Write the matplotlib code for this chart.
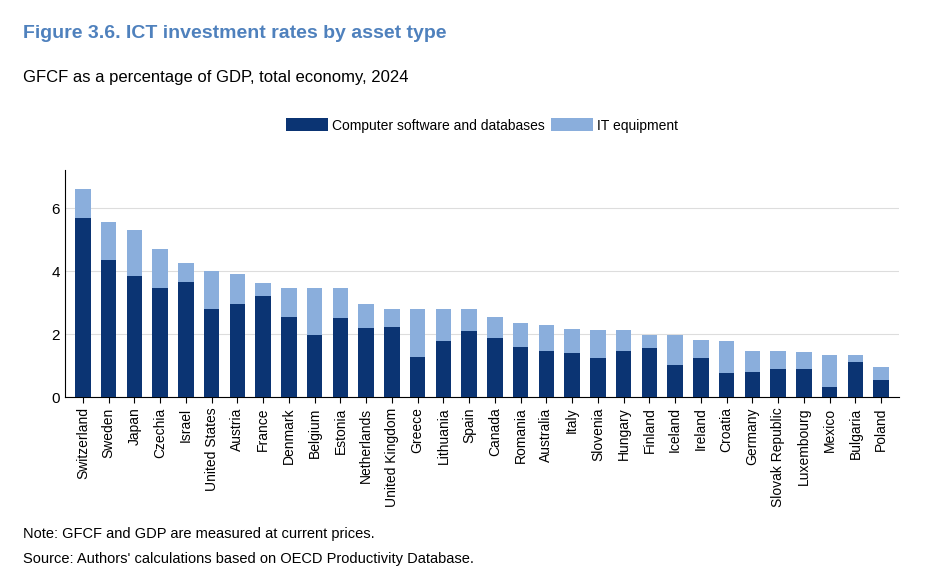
import matplotlib
matplotlib.use("Agg")
import matplotlib.pyplot as plt
import numpy as np

countries = ["Switzerland", "Sweden", "Japan", "Czechia", "Israel", "United States", "Austria",
             "France", "Denmark", "Belgium", "Estonia", "Netherlands", "United Kingdom", "Greece",
             "Lithuania", "Spain", "Canada", "Romania", "Australia", "Italy", "Slovenia", "Hungary",
             "Finland", "Iceland", "Ireland", "Croatia", "Germany", "Slovak Republic", "Luxembourg",
             "Mexico", "Bulgaria", "Poland"]
software = [5.68, 4.35, 3.84, 3.46, 3.65, 2.79, 2.95, 3.2, 2.54, 1.97, 2.5, 2.19, 2.22, 1.27,
            1.78, 2.1, 1.87, 1.59, 1.46, 1.4, 1.24, 1.46, 1.56, 1.02, 1.24, 0.76, 0.79, 0.89,
            0.89, 0.32, 1.11, 0.54]
total = [6.6, 5.56, 5.3, 4.7, 4.25, 4.0, 3.9, 3.62, 3.46, 3.46, 3.46, 2.95, 2.79, 2.79,
         2.79, 2.79, 2.54, 2.35, 2.29, 2.16, 2.13, 2.13, 1.97, 1.97, 1.81, 1.78, 1.46, 1.46,
         1.43, 1.33, 1.33, 0.95]
it_equipment = [t - s for t, s in zip(total, software)]

plt.rcParams['font.family'] = ['Liberation Sans', 'DejaVu Sans']
fig = plt.figure(figsize=(9.27, 5.83), dpi=100)
ax = fig.add_axes([0.07, 0.319, 0.9, 0.389])

x = np.arange(len(countries))
ax.bar(x, software, width=0.6, color="#0b3473", label="Computer software and databases", zorder=3)
ax.bar(x, it_equipment, width=0.6, bottom=software, color="#8aaedc", label="IT equipment", zorder=3)

ax.set_xlim(-0.7, len(countries) - 0.3)
ax.set_ylim(0, 7.2)
ax.set_yticks([0, 2, 4, 6])
ax.set_xticks(x)
ax.set_xticklabels(countries, rotation=90, fontsize=10)
ax.tick_params(axis="y", length=0, labelsize=11)
ax.tick_params(axis="x", length=4)
ax.grid(axis="y", color="#dddddd", linewidth=0.8, zorder=0)
for s in ["top", "right"]:
    ax.spines[s].set_visible(False)

fig.text(0.025, 0.935, "Figure 3.6. ICT investment rates by asset type", color="#4f81bd",
         fontsize=14, fontweight="bold")
fig.text(0.025, 0.86, "GFCF as a percentage of GDP, total economy, 2024", fontsize=12)
fig.legend(loc="center", bbox_to_anchor=(0.52, 0.785), ncol=2, frameon=False, fontsize=10,
           handlelength=3, handleheight=1.1, columnspacing=0.5, handletextpad=0.3)
fig.text(0.025, 0.078, "Note: GFCF and GDP are measured at current prices.", fontsize=10.5)
fig.text(0.025, 0.035, "Source: Authors' calculations based on OECD Productivity Database.", fontsize=10.5)

fig.savefig("out.png", dpi=100)
